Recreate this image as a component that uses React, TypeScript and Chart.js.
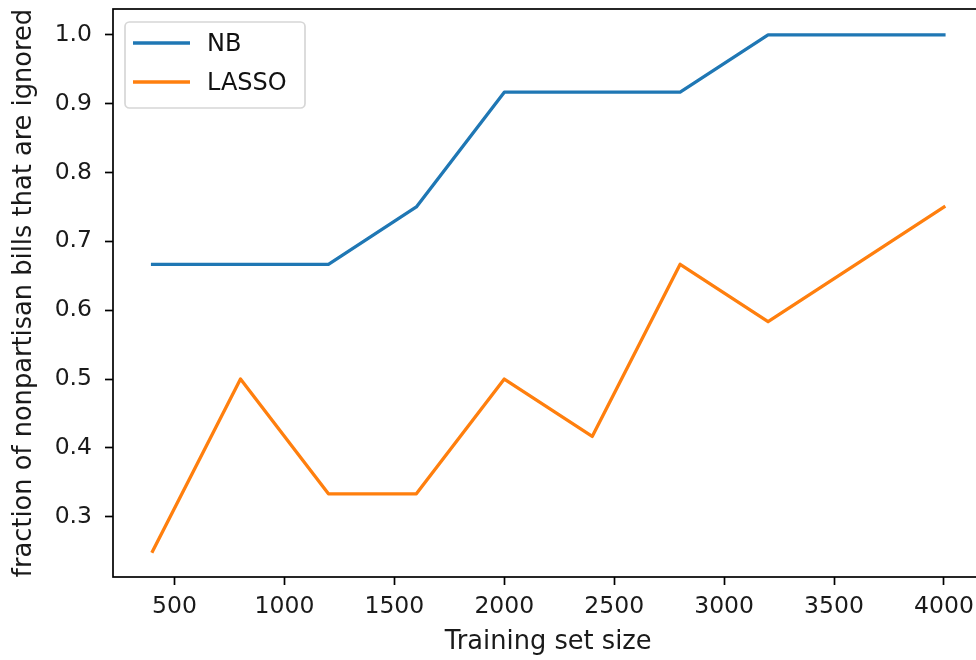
import React, { useEffect, useRef } from "react";
import { Chart, registerables } from "chart.js";

Chart.register(...registerables);

const trainingSizes = [400, 800, 1200, 1600, 2000, 2400, 2800, 3200, 3600, 4000];
const nbValues = [0.6667, 0.6667, 0.6667, 0.75, 0.9167, 0.9167, 0.9167, 1.0, 1.0, 1.0];
const lassoValues = [0.25, 0.5, 0.3333, 0.3333, 0.5, 0.4167, 0.6667, 0.5833, 0.6667, 0.75];
const xTicks = [500, 1000, 1500, 2000, 2500, 3000, 3500, 4000];
const yTicks = [0.3, 0.4, 0.5, 0.6, 0.7, 0.8, 0.9, 1.0];
const seriesLabels = ["NB", "LASSO"];
const seriesColors = ["#1f77b4", "#ff7f0e"];
const xTitle = "Training set size";
const yTitle = "fraction of nonpartisan bills that are ignored";

const FONT = "DejaVu Sans";
const TICK_FS = 23.5;
const TITLE_FS = 25.7;
const LEGEND_FS = 24;

const framePlugin = {
  id: "frameAndLegend",
  afterDatasetsDraw(chart: any) {
    const { ctx, chartArea } = chart;
    const { left, top, right, bottom } = chartArea;
    ctx.save();
    ctx.strokeStyle = "#000";
    ctx.lineWidth = 1.7;
    ctx.strokeRect(left, top, right - left, bottom - top);
    ctx.restore();
  },
  afterDraw(chart: any) {
    const { ctx, chartArea } = chart;
    const bx = chartArea.left + 12;
    const by = chartArea.top + 13;
    const bw = 180;
    const bh = 86;
    ctx.save();
    ctx.beginPath();
    ctx.roundRect(bx, by, bw, bh, 4.5);
    ctx.fillStyle = "rgba(255,255,255,0.8)";
    ctx.fill();
    ctx.strokeStyle = "rgba(204,204,204,0.8)";
    ctx.lineWidth = 1.7;
    ctx.stroke();
    ctx.font = `${LEGEND_FS}px "${FONT}"`;
    ctx.textBaseline = "middle";
    ctx.textAlign = "left";
    chart.data.datasets.forEach((ds: any, i: number) => {
      const cy = by + 21 + i * 39;
      ctx.beginPath();
      ctx.moveTo(bx + 8, cy);
      ctx.lineTo(bx + 65, cy);
      ctx.strokeStyle = ds.borderColor;
      ctx.lineWidth = 3.3;
      ctx.lineCap = "butt";
      ctx.stroke();
      ctx.fillStyle = "#111";
      ctx.fillText(ds.label, bx + 82, cy + 2);
    });
    ctx.restore();
  },
};

export default function App() {
  const canvasRef = useRef<HTMLCanvasElement | null>(null);

  useEffect(() => {
    document.body.style.margin = "0";
    const canvas = canvasRef.current;
    if (!canvas) return;
    const chart = new Chart(canvas, {
      type: "line",
      data: {
        datasets: [nbValues, lassoValues].map((vals, i) => ({
          label: seriesLabels[i],
          data: trainingSizes.map((x, j) => ({ x, y: vals[j] })),
          borderColor: seriesColors[i],
          backgroundColor: seriesColors[i],
          borderWidth: 3.3,
          pointRadius: 0,
          tension: 0,
          fill: false,
          borderJoinStyle: "round" as const,
          borderCapStyle: "square" as const,
        })),
      },
      options: {
        responsive: false,
        animation: false,
        devicePixelRatio: 1,
        layout: { padding: { top: 9, right: 6.5, left: 0, bottom: 0 } },
        plugins: {
          legend: { display: false },
          tooltip: { enabled: false },
        },
        scales: {
          x: {
            type: "linear",
            min: 220,
            max: 4180,
            afterBuildTicks: (scale: any) => {
              scale.ticks = xTicks.map((v) => ({ value: v }));
            },
            afterFit: (scale: any) => {
              scale.height = 83;
              scale.paddingLeft = 0;
              scale.paddingRight = 0;
            },
            border: { display: false },
            grid: {
              display: true,
              drawOnChartArea: false,
              drawTicks: true,
              tickLength: 8,
              tickColor: "#000",
              tickWidth: 1.7,
            },
            ticks: {
              color: "#1a1a1a",
              font: { family: FONT, size: TICK_FS },
              padding: 8,
              maxRotation: 0,
              autoSkip: false,
              callback: (v: any) => String(v),
            },
            title: {
              display: true,
              text: xTitle,
              color: "#1a1a1a",
              font: { family: FONT, size: TITLE_FS },
              padding: { top: 0, bottom: 2 },
            },
          },
          y: {
            type: "linear",
            min: 0.2125,
            max: 1.0375,
            afterBuildTicks: (scale: any) => {
              scale.ticks = yTicks.map((v) => ({ value: v }));
            },
            afterFit: (scale: any) => {
              scale.width = 113;
              scale.paddingTop = 0;
              scale.paddingBottom = 0;
            },
            border: { display: false },
            grid: {
              display: true,
              drawOnChartArea: false,
              drawTicks: true,
              tickLength: 8,
              tickColor: "#000",
              tickWidth: 1.7,
            },
            ticks: {
              color: "#1a1a1a",
              font: { family: FONT, size: TICK_FS },
              padding: 13,
              autoSkip: false,
              callback: (v: any) => Number(v).toFixed(1),
            },
            title: {
              display: true,
              text: yTitle,
              color: "#1a1a1a",
              font: { family: FONT, size: TITLE_FS },
              padding: { top: 9, bottom: 0 },
            },
          },
        },
      },
      plugins: [framePlugin],
    });
    return () => chart.destroy();
  }, []);

  return (
    <div style={{ width: 976, height: 660, overflow: "hidden", position: "relative", background: "#fff" }}>
      <canvas ref={canvasRef} width={990} height={660} style={{ width: 990, height: 660, display: "block" }} />
    </div>
  );
}
